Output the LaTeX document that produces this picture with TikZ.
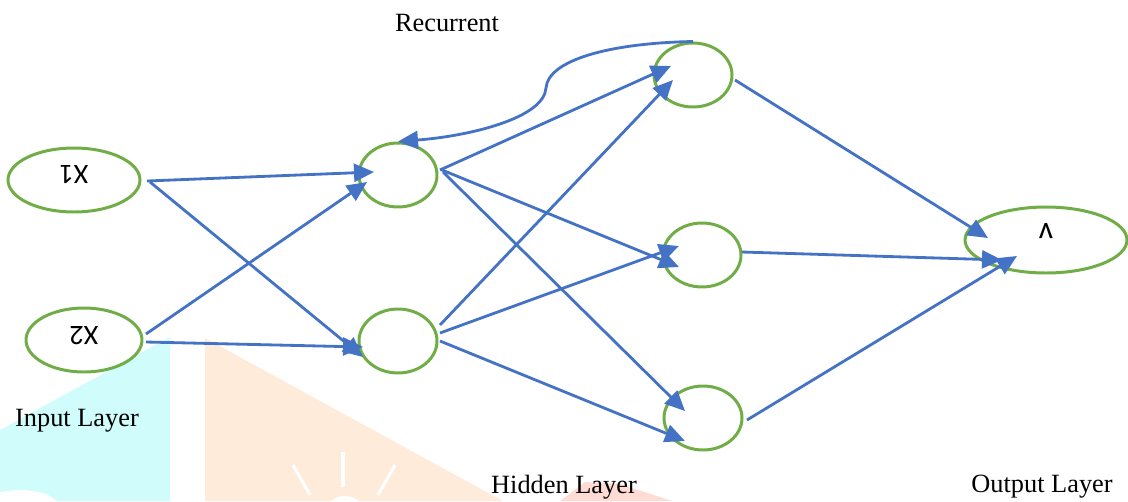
\documentclass[tikz,border=0pt]{standalone}
\usepackage{fontspec}
\setmainfont{Liberation Serif}
\newfontfamily\calfont{Carlito}
\usetikzlibrary{arrows.meta,shapes.geometric}
\definecolor{linkblue}{RGB}{68,114,196}
\definecolor{ringgreen}{RGB}{112,173,71}
\definecolor{wmcyan}{RGB}{208,252,252}
\definecolor{wmorange}{RGB}{255,235,217}
\definecolor{wmpink}{RGB}{255,219,214}
\newcommand{\flipped}[2]{\smash{\raisebox{#1}{\rotatebox[origin=c]{180}{#2}}}}

\begin{document}
\begin{tikzpicture}[x=0.02cm, y=-0.02cm,
		input_style/.style={ellipse,draw=ringgreen,line width=1.7pt,fill=white,minimum height=12.8mm,inner sep=0pt,font=\calfont\fontsize{16}{18}\selectfont},
		hidden_style/.style={ellipse,draw=ringgreen,line width=1.7pt,fill=white,minimum width=15.6mm,minimum height=12.8mm,inner sep=0pt},
		output_style/.style={ellipse,draw=ringgreen,line width=1.7pt,fill=white,minimum width=32.4mm,minimum height=13.2mm,inner sep=0pt,font=\calfont\fontsize{18}{20}\selectfont},
		edge_style/.style={draw=linkblue,line width=1.6pt,-{Triangle[length=4mm,width=3.6mm]}},
		label_style/.style={inner sep=0pt,font=\fontsize{15}{18}\selectfont}]

	\useasboundingbox (0,0) rectangle (1128,501);
	\begin{scope}
		\clip (0,0) rectangle (1128,501);
		\fill[wmcyan] (0,430) -- (170,337) -- (170,501) -- (0,501) -- cycle;
		\fill[white] (20,508) ellipse (40 and 18);
		\fill[wmorange] (205,338) -- (503,501) -- (205,501) -- cycle;
		\fill[wmpink] (560,501) -- (585,482) -- (620,484) -- (672,501) -- cycle;
		\fill[white] (345,518) circle (22);
		\draw[white,line width=1.8pt] (343,452) -- (343,487);
		\draw[white,line width=1.8pt] (293,465) -- (310,495);
		\draw[white,line width=1.8pt] (395,465) -- (378,495);
	\end{scope}

	\node[input_style,minimum width=26.4mm] (x1) at (74,180) {\flipped{-0.8mm}{X1}};
	\node[input_style,minimum width=23.2mm] (x2) at (84,340) {\flipped{-1mm}{X2}};
	\node[hidden_style] (h1) at (398,175) {};
	\node[hidden_style] (h2) at (398,341) {};
	\node[hidden_style] (h3) at (693,75) {};
	\node[hidden_style] (h4) at (702,255) {};
	\node[hidden_style] (h5) at (703,418) {};
	\node[output_style] (y) at (1046,240) {\flipped{0.3mm}{v}};

	\node[label_style] (rec_lbl) at (447,23) {Recurrent};
	\node[label_style] (in_lbl) at (77,421) {Input Layer};
	\node[label_style] (hid_lbl) at (564,487) {Hidden Layer};
	\node[label_style] (out_lbl) at (1042,487) {Output Layer};

	\draw[edge_style] ([shift={(73,1)}]x1.center) -- ([shift={(-24,-3)}]h1.center);
	\draw[edge_style] ([shift={(76,2)}]x1.center) -- ([shift={(-35,16)}]h2.center);
	\draw[edge_style] ([shift={(62,-6)}]x2.center) -- ([shift={(-31,7)}]h1.center);
	\draw[edge_style] ([shift={(62,2)}]x2.center) -- ([shift={(-35,6)}]h2.center);
	\draw[edge_style] ([shift={(42,-5)}]h1.center) -- ([shift={(-22,-9)}]h3.center);
	\draw[edge_style] ([shift={(42,-16)}]h2.center) -- ([shift={(-20,5)}]h3.center);
	\draw[edge_style] ([shift={(44,-5)}]h1.center) -- ([shift={(-23,12)}]h4.center);
	\draw[edge_style] ([shift={(42,-8)}]h2.center) -- ([shift={(-23,-9)}]h4.center);
	\draw[edge_style] ([shift={(45,-3)}]h1.center) -- ([shift={(-18,-7)}]h5.center);
	\draw[edge_style] ([shift={(42,0)}]h2.center) -- ([shift={(-18,23)}]h5.center);
	\draw[edge_style] ([shift={(42,5)}]h3.center) -- ([shift={(-58,-2)}]y.center);
	\draw[edge_style] ([shift={(40,-3)}]h4.center) -- ([shift={(-44,20)}]y.center);
	\draw[edge_style] ([shift={(44,2)}]h5.center) -- ([shift={(-29,16)}]y.center);
	\draw[edge_style] (h3.north) .. controls (610,43) and (548,60) .. (546,88)
		.. controls (544,118) and (470,136) .. (h1.north);
\end{tikzpicture}
\end{document}
